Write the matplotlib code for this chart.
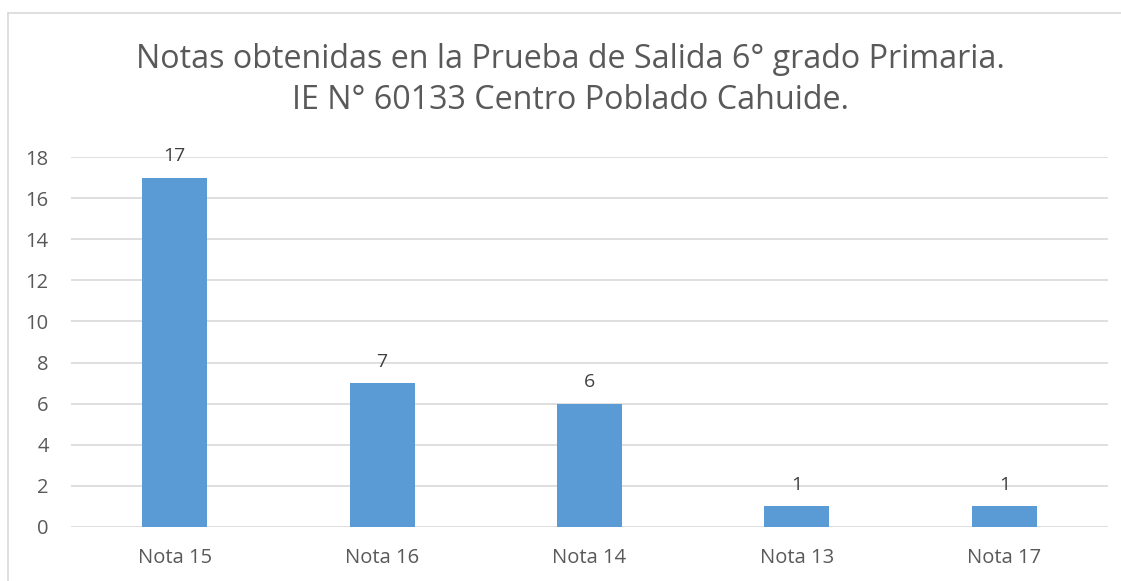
import matplotlib
matplotlib.use("Agg")
import matplotlib.pyplot as plt
from matplotlib.lines import Line2D

categories = ["Nota 15", "Nota 16", "Nota 14", "Nota 13", "Nota 17"]
counts = [17, 7, 6, 1, 1]
yticks = [0, 2, 4, 6, 8, 10, 12, 14, 16, 18]
title = "Notas obtenidas en la Prueba de Salida 6° grado Primaria.\nIE N° 60133 Centro Poblado Cahuide."

W, H = 1121, 581
plt.rcParams["font.family"] = ["Open Sans", "DejaVu Sans"]
TXT = "#595959"

fig = plt.figure(figsize=(W / 100, H / 100), dpi=100)
fig.patch.set_facecolor("white")

# axes placement in pixels: x from 71 to 1108, y=0 at 527, y=18 at 157
ax = fig.add_axes([71 / W, 1 - 527 / H, (1108 - 71) / W, (527 - 157) / H])

x = range(len(categories))
bars = ax.bar(x, counts, width=0.313, color="#5B9BD5", zorder=3)
for xi, v in zip(x, counts):
    ax.annotate(str(v), (xi, v), xytext=(0, 9), textcoords="offset points",
                ha="center", va="bottom", fontsize=14, color="#404040")

ax.set_xlim(-0.5, len(categories) - 0.5)
ax.set_ylim(0, 18)
ax.set_yticks(yticks)
ax.set_xticks(list(x))
ax.set_xticklabels(categories)
ax.grid(axis="y", color="#D9D9D9", lw=1.2, zorder=0)
ax.tick_params(axis="both", length=0, labelsize=14.5, labelcolor=TXT)
ax.tick_params(axis="y", pad=16)
ax.tick_params(axis="x", pad=15)
for s in ax.spines.values():
    s.set_visible(False)

fig.text(570 / W, 1 - 80 / H, title, ha="center", va="center", fontsize=23.2,
         color=TXT, linespacing=1.3)

# chart border (top and left edges visible)
fig.add_artist(Line2D([7.5 / W, 7.5 / W], [0, 1 - 13 / H], transform=fig.transFigure,
                      color="#D9D9D9", lw=1.2))
fig.add_artist(Line2D([7.5 / W, 1], [1 - 13 / H, 1 - 13 / H], transform=fig.transFigure,
                      color="#D9D9D9", lw=1.2))

fig.savefig("out.png", dpi=100)
